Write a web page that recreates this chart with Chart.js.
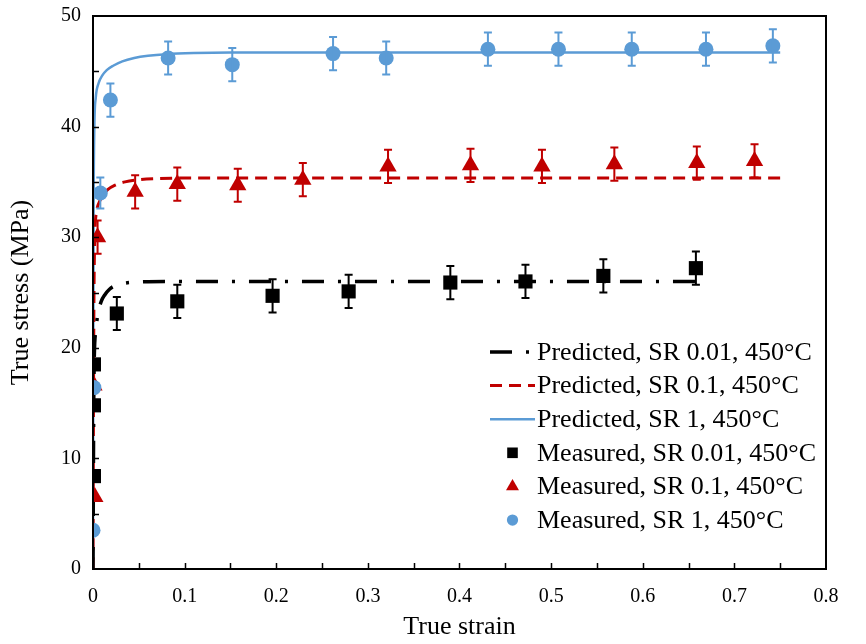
<!DOCTYPE html>
<html>
<head>
<meta charset="utf-8">
<script src="https://cdn.jsdelivr.net/npm/chart.js@4.4.0/dist/chart.umd.min.js"></script>
<style>
  html, body { margin: 0; padding: 0; background: #fff; }
</style>
</head>
<body>
<canvas id="chart" width="866" height="644"></canvas>
<script>
// --- tick labels ---
const xTicks = [0, 0.1, 0.2, 0.3, 0.4, 0.5, 0.6, 0.7, 0.8];
const xTickLabels = ['0', '0.1', '0.2', '0.3', '0.4', '0.5', '0.6', '0.7', '0.8'];
const yTicks = [0, 10, 20, 30, 40, 50];
const yTickLabels = ['0', '10', '20', '30', '40', '50'];

// --- predicted curves ---
const predStrain001 = [0, 0.001, 0.003, 0.006, 0.009, 0.013, 0.018, 0.025, 0.035, 0.05, 0.08, 0.67];
const predStress001 = [0, 17, 21.5, 23.3, 24.2, 24.8, 25.3, 25.65, 25.85, 25.95, 26.0, 26.0];

const predStrain01 = [0, 0.0005, 0.001, 0.002, 0.004, 0.007, 0.011, 0.016, 0.024, 0.035, 0.05, 0.07, 0.1, 0.75];
const predStress01 = [0, 14, 24, 30, 32.3, 33.2, 33.8, 34.3, 34.7, 35.0, 35.2, 35.3, 35.35, 35.35];

const predStrain1 = [0, 0.0003, 0.0007, 0.0015, 0.003, 0.006, 0.01, 0.015, 0.022, 0.032, 0.045, 0.06, 0.08, 0.11, 0.15, 0.75];
const predStress1 = [0, 20, 33, 40, 42.6, 43.9, 44.6, 45.1, 45.5, 45.9, 46.2, 46.4, 46.55, 46.65, 46.7, 46.7];

// --- measured points (with error bars) ---
const measStrain001 = [0.001, 0.001, 0.001, 0.026, 0.092, 0.196, 0.279, 0.390, 0.472, 0.557, 0.658];
const measStress001 = [8.4, 14.8, 18.5, 23.1, 24.2, 24.7, 25.1, 25.9, 26.0, 26.5, 27.2];
const measErr001 = [0, 0, 0, 1.5, 1.5, 1.5, 1.5, 1.5, 1.5, 1.5, 1.5];

const measStrain01 = [0.002, 0.001, 0.005, 0.046, 0.092, 0.158, 0.229, 0.322, 0.412, 0.490, 0.569, 0.659, 0.722];
const measStress01 = [6.5, 16.6, 30.0, 34.1, 34.8, 34.7, 35.2, 36.4, 36.5, 36.4, 36.6, 36.7, 36.9];
const measErr01 = [0, 0, 1.5, 1.5, 1.5, 1.5, 1.5, 1.5, 1.5, 1.5, 1.5, 1.5, 1.5];

const measStrain1 = [0, 0.001, 0.008, 0.019, 0.082, 0.152, 0.262, 0.320, 0.431, 0.508, 0.588, 0.669, 0.742];
const measStress1 = [3.5, 16.4, 34.0, 42.4, 46.2, 45.6, 46.6, 46.2, 47.0, 47.0, 47.0, 47.0, 47.3];
const measErr1 = [0, 0, 1.4, 1.5, 1.5, 1.5, 1.5, 1.5, 1.5, 1.5, 1.5, 1.5, 1.5];

const BLACK = '#000000';
const RED = '#C00000';
const BLUE = '#5B9BD5';
const FONT = "'Liberation Serif', 'Times New Roman', serif";

const toPoints = (xs, ys) => xs.map((x, i) => ({ x: x, y: ys[i] }));

const lineSet = (label, xs, ys, color, width, dash) => ({
    label: label,
    data: toPoints(xs, ys),
    showLine: true,
    borderColor: color,
    backgroundColor: color,
    borderWidth: width,
    borderDash: dash,
    pointRadius: 0,
    cubicInterpolationMode: 'monotone',
    order: 10
});

const markSet = (label, xs, ys, errs, color, style, radius, order) => ({
    label: label,
    data: toPoints(xs, ys),
    errors: errs,
    showLine: false,
    pointStyle: style,
    pointRadius: radius,
    pointBackgroundColor: color,
    pointBorderColor: color,
    pointBorderWidth: 0,
    backgroundColor: color,
    borderColor: color,
    order: order
});

// --- error bars ---
const errorBars = {
    id: 'errorBars',
    afterDatasetsDraw(chart) {
        const ctx = chart.ctx;
        const xs = chart.scales.x, ys = chart.scales.y;
        chart.data.datasets.forEach(ds => {
            if (!ds.errors) return;
            ctx.save();
            ctx.strokeStyle = ds.borderColor;
            ctx.lineWidth = 2;
            ds.data.forEach((p, i) => {
                const e = ds.errors[i];
                if (!e) return;
                const px = xs.getPixelForValue(p.x);
                const top = ys.getPixelForValue(p.y + e);
                const bot = ys.getPixelForValue(p.y - e);
                ctx.beginPath();
                ctx.moveTo(px, top); ctx.lineTo(px, bot);
                ctx.moveTo(px - 4, top); ctx.lineTo(px + 4, top);
                ctx.moveTo(px - 4, bot); ctx.lineTo(px + 4, bot);
                ctx.stroke();
            });
            ctx.restore();
        });
    }
};

// --- frame, inward tick marks and legend ---
const frameAndLegend = {
    id: 'frameAndLegend',
    afterDraw(chart) {
        const ctx = chart.ctx;
        const a = chart.chartArea;
        const xs = chart.scales.x, ys = chart.scales.y;
        ctx.save();
        ctx.strokeStyle = '#000';
        ctx.lineWidth = 1.5;
        ctx.beginPath();
        for (let v = 0.05; v < 0.8 - 1e-9; v += 0.05) {
            const px = Math.round(xs.getPixelForValue(v)) + 0.5;
            ctx.moveTo(px, a.bottom); ctx.lineTo(px, a.bottom - 6);
        }
        for (let v = 5; v < 50; v += 5) {
            const py = Math.round(ys.getPixelForValue(v)) + 0.5;
            ctx.moveTo(a.left, py); ctx.lineTo(a.left + 6, py);
        }
        ctx.stroke();
        ctx.lineWidth = 2;
        ctx.strokeRect(a.left, a.top, a.right - a.left, a.bottom - a.top);

        // legend, anchored to the bottom of the plot
        const rowH = 33.6;
        const top = a.bottom - 217;
        const sampleL = a.left + 397, sampleR = a.left + 442;
        const textX = a.left + 444;
        ctx.font = '26px ' + FONT;
        ctx.textBaseline = 'middle';
        ctx.textAlign = 'left';
        chart.data.datasets.forEach((ds, i) => {
            const y = top + i * rowH;
            if (ds.showLine) {
                ctx.save();
                ctx.strokeStyle = ds.borderColor;
                ctx.lineWidth = ds.borderWidth;
                ctx.setLineDash(ds.borderDash || []);
                ctx.beginPath();
                ctx.moveTo(sampleL, y); ctx.lineTo(sampleR, y);
                ctx.stroke();
                ctx.restore();
            } else {
                ctx.fillStyle = ds.backgroundColor;
                Chart.helpers.drawPoint(ctx, { pointStyle: ds.pointStyle, radius: ds.pointRadius * 0.75, rotation: 0, borderWidth: 0 }, (sampleL + sampleR) / 2, y);
            }
            ctx.fillStyle = '#000';
            ctx.fillText(ds.label, textX, y + 1);
        });
        ctx.restore();
    }
};

new Chart(document.getElementById('chart'), {
    type: 'scatter',
    data: {
        datasets: [
            lineSet('Predicted, SR 0.01, 450°C', predStrain001, predStress001, BLACK, 3.5, [22, 14, 3, 14]),
            lineSet('Predicted, SR 0.1, 450°C', predStrain01, predStress01, RED, 3, [12, 7]),
            lineSet('Predicted, SR 1, 450°C', predStrain1, predStress1, BLUE, 2.5, []),
            markSet('Measured, SR 0.01, 450°C', measStrain001, measStress001, measErr001, BLACK, 'rect', 10, 3),
            markSet('Measured, SR 0.1, 450°C', measStrain01, measStress01, measErr01, RED, 'triangle', 10, 2),
            markSet('Measured, SR 1, 450°C', measStrain1, measStress1, measErr1, BLUE, 'circle', 7.5, 1)
        ]
    },
    options: {
        responsive: false,
        animation: false,
        devicePixelRatio: 1,
        layout: { padding: { top: 16, right: 40, left: 0, bottom: 0 } },
        plugins: { legend: { display: false }, tooltip: { enabled: false } },
        scales: {
            x: {
                type: 'linear', min: 0, max: 0.8,
                afterBuildTicks: s => { s.ticks = xTicks.map(v => ({ value: v })); },
                afterFit: s => { s.height = 75; },
                grid: { display: false, drawTicks: false },
                border: { display: false },
                ticks: {
                    callback: (v, i) => xTickLabels[i],
                    font: { family: FONT, size: 20 }, color: '#000',
                    padding: 16, maxRotation: 0, autoSkip: false
                },
                title: {
                    display: true, text: 'True strain',
                    font: { family: FONT, size: 26 }, color: '#000',
                    padding: { top: 0, bottom: 1 }
                }
            },
            y: {
                type: 'linear', min: 0, max: 50,
                afterBuildTicks: s => { s.ticks = yTicks.map(v => ({ value: v })); },
                afterFit: s => { s.width = 93; s.paddingTop = 0; s.paddingBottom = 0; },
                grid: { display: false, drawTicks: false },
                border: { display: false },
                ticks: {
                    callback: (v, i) => yTickLabels[i],
                    font: { family: FONT, size: 20 }, color: '#000',
                    padding: 12, autoSkip: false
                },
                title: {
                    display: true, text: 'True stress (MPa)',
                    font: { family: FONT, size: 26 }, color: '#000',
                    padding: { top: 6, bottom: 0 }
                }
            }
        }
    },
    plugins: [errorBars, frameAndLegend]
});
</script>
</body>
</html>
